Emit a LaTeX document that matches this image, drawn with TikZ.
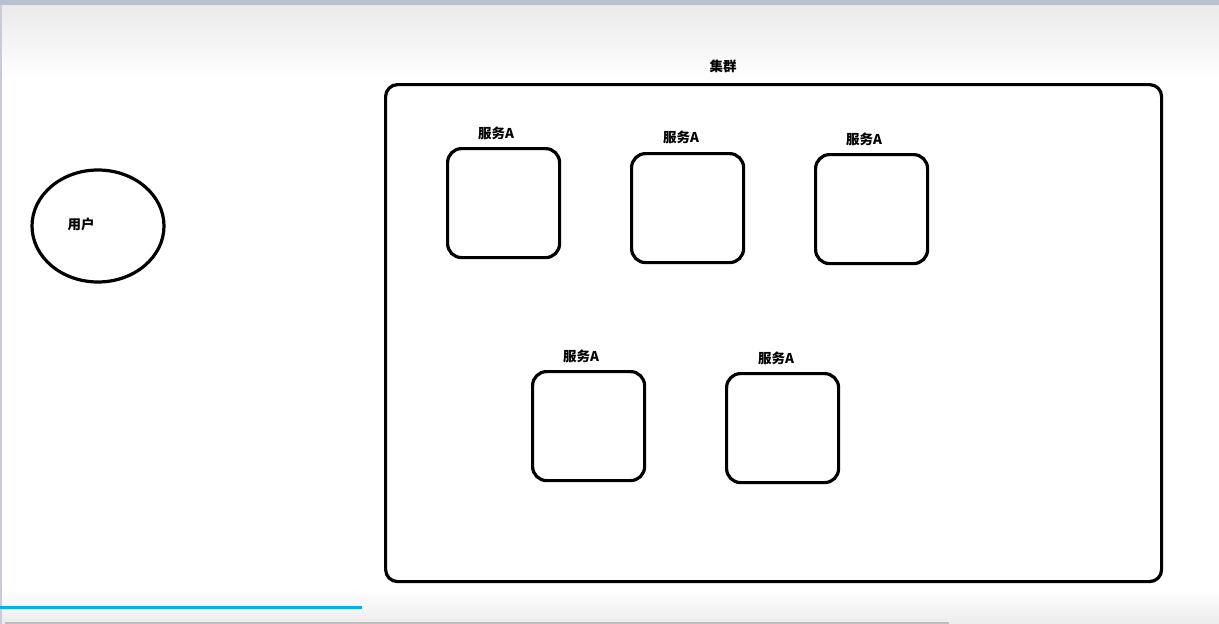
\documentclass[tikz,border=0pt]{standalone}
\usepackage{fontspec}
\setmainfont{Noto Sans CJK SC}
\usetikzlibrary{shapes.geometric}
\definecolor{topbar}{RGB}{184,191,207}
\definecolor{sidebar}{RGB}{200,204,214}
\definecolor{gradgray}{RGB}{234,234,234}
\definecolor{botgray}{RGB}{236,236,236}
\definecolor{botline}{RGB}{190,190,190}
\definecolor{progblue}{RGB}{0,176,236}
\definecolor{progrest}{RGB}{244,244,244}
\begin{document}
\begin{tikzpicture}[x=1pt,y=-1pt,
  shape line/.style={draw=black,line width=3.2pt},
  svc/.style={shape line,rounded corners=14pt,minimum width=112pt,minimum height=109pt,inner sep=0pt,anchor=north west},
  lbl/.style={font=\fontsize{13.5}{13.5}\selectfont\bfseries,inner sep=0pt,text=black}
]
\useasboundingbox (0,0) rectangle (1219,624);
% background
\fill[white] (0,0) rectangle (1219,624);
\shade[top color=gradgray,bottom color=white] (0,5) rectangle (1219,80);
\shade[top color=white,bottom color=botgray] (0,588) rectangle (1219,624);
\fill[topbar] (0,0) rectangle (1219,5);
\fill[sidebar] (0,5) rectangle (1.5,624);
\fill[botline] (5,621.5) rectangle (949,624);
\fill[progblue] (0,605.5) rectangle (362,608.5);
\fill[progrest] (362,605.5) rectangle (492,608.5);
% cluster
\node[shape line,rounded corners=12pt,minimum width=776pt,minimum height=497pt,inner sep=0pt,anchor=north west] (cluster) at (384,83) {};
\node[lbl] (clusterlbl) at (723,66) {集群};
% user
\node[shape line,ellipse,minimum width=132pt,minimum height=112pt,inner sep=0pt] (user) at (98,226) {};
\node[lbl] (userlbl) at (81,224) {用户};
% services
\node[svc] (s1) at (446,147) {};
\node[lbl] (l1) at (496,133) {服务A};
\node[svc] (s2) at (630,152) {};
\node[lbl] (l2) at (681,137) {服务A};
\node[svc] (s3) at (814,153) {};
\node[lbl] (l3) at (864,139) {服务A};
\node[svc] (s4) at (531,370) {};
\node[lbl] (l4) at (581,356) {服务A};
\node[svc] (s5) at (725,372) {};
\node[lbl] (l5) at (776,358) {服务A};
\end{tikzpicture}
\end{document}
